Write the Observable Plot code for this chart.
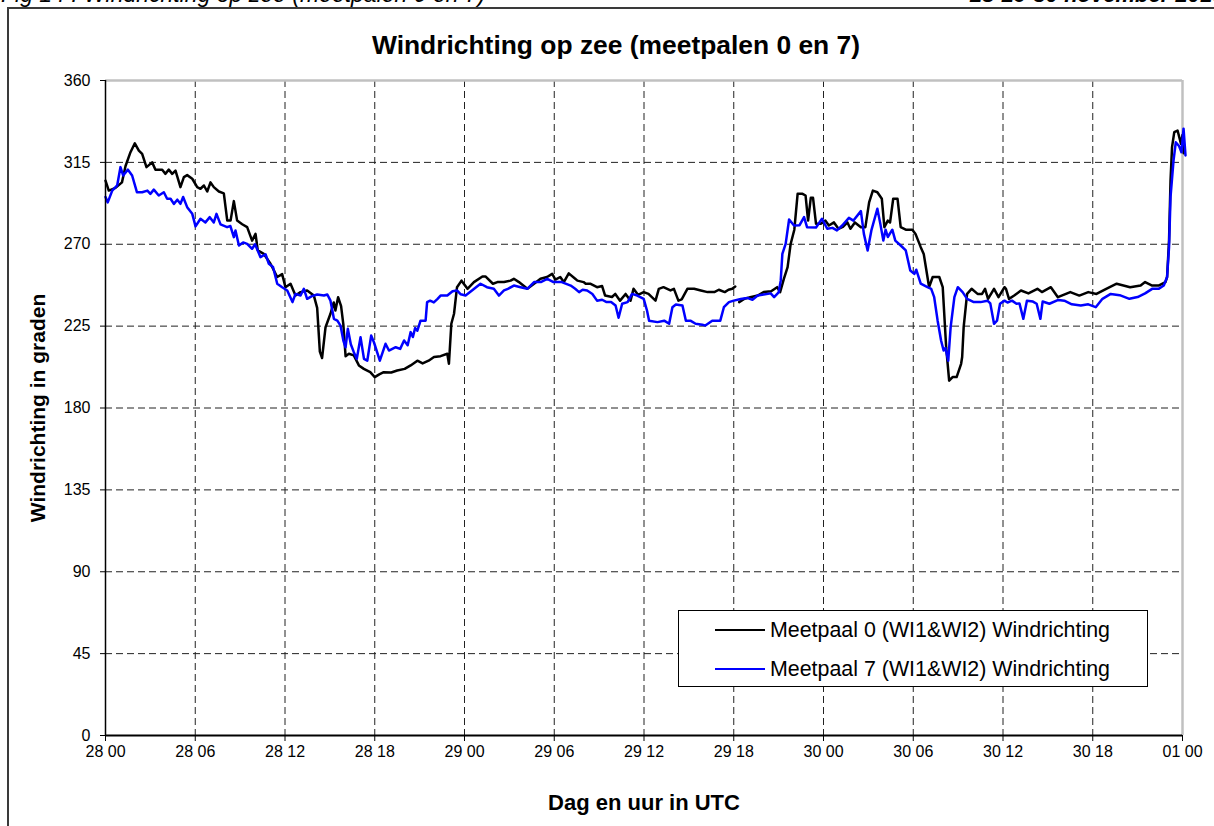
<!DOCTYPE html>
<html>
<head>
<meta charset="utf-8">
<script src="https://cdn.jsdelivr.net/npm/d3@7"></script>
<script src="https://cdn.jsdelivr.net/npm/@observablehq/plot@0.6"></script>
<style>
  html, body { margin: 0; padding: 0; background: #fff; }
  #wrap { position: relative; width: 1214px; height: 826px; overflow: hidden; font-family: "Liberation Sans", Arial, sans-serif; color: #000; }
  #wrap svg { position: absolute; left: 0; top: 0; }
  .abs { position: absolute; white-space: nowrap; }
  #frame { position: absolute; left: 7px; top: 7px; width: 1300px; height: 900px; border: 2px solid #3a3a3a; box-sizing: border-box; }
  #hdrL { left: 1px; top: -17px; font-size: 23px; font-style: italic; line-height: 23px; }
  #hdrR { left: 970px; top: -16px; font-size: 22px; font-style: italic; font-weight: bold; line-height: 22px; }
  #title { left: 0; width: 1232px; top: 30px; text-align: center; font-size: 26.4px; font-weight: bold; line-height: 30px; }
  #xlab { left: 0; width: 1288px; top: 791px; text-align: center; font-size: 22px; font-weight: bold; line-height: 24px; }
  #ylab { left: 38px; top: 408px; font-size: 21px; font-weight: bold; line-height: 24px; transform: translate(-50%, -50%) rotate(-90deg); }
  #legend { position: absolute; left: 678px; top: 610px; width: 470px; height: 77px; border: 1px solid #000; background: #fff; box-sizing: border-box; }
  .lrow { position: absolute; left: 36px; height: 24px; font-size: 21.4px; line-height: 24px; }
  .lrow span.sw { display: inline-block; width: 50px; height: 0; border-top: 2.6px solid #000; vertical-align: middle; margin-right: 5px; position: relative; top: -1px; }
</style>
</head>
<body>
<div id="wrap">
  <div id="frame"></div>
  <div id="chart"></div>
  <div class="abs" id="hdrL">Fig 14 : Windrichting op zee (meetpalen 0 en 7)</div>
  <div class="abs" id="hdrR">28-29-30 november 2010</div>
  <div class="abs" id="title">Windrichting op zee (meetpalen 0 en 7)</div>
  <div class="abs" id="xlab">Dag en uur in UTC</div>
  <div class="abs" id="ylab">Windrichting in graden</div>
  <div id="legend"></div>
</div>
<script>
// ---- data (hours since 28 Nov 00 UTC, wind direction in degrees) ----
const seriesNames = ["Meetpaal 0 (WI1&WI2) Windrichting", "Meetpaal 7 (WI1&WI2) Windrichting"];
const seriesColors = ["#000000", "#0000ff"];

const xTickHours = [0, 6, 12, 18, 24, 30, 36, 42, 48, 54, 60, 66, 72];
const xTickLabels = ["28 00", "28 06", "28 12", "28 18", "29 00", "29 06", "29 12", "29 18", "30 00", "30 06", "30 12", "30 18", "01 00"];
const yTicks = [0, 45, 90, 135, 180, 225, 270, 315, 360];

const hours0 = [0,0.22,0.67,1.1,1.34,1.67,1.96,2.23,2.45,2.74,3.12,3.34,3.79,4.0,4.23,4.46,4.68,5.01,5.24,5.46,5.8,6.13,6.35,6.58,6.8,7.02,7.24,7.58,7.91,8.14,8.36,8.58,8.8,9.14,9.47,9.8,10.03,10.18,10.58,11.03,11.48,11.81,12.03,12.37,12.7,13.04,13.48,13.93,14.15,14.33,14.48,14.71,15.04,15.26,15.37,15.55,15.75,15.9,16.05,16.27,16.6,16.94,17.27,17.7,18.0,18.3,18.6,19.1,19.5,20.0,20.4,20.85,21.2,21.6,21.96,22.4,22.85,22.96,23.12,23.3,23.5,23.8,24.2,24.63,25.2,25.4,25.9,26.2,26.64,27.08,27.3,27.64,28.2,28.65,29.08,29.52,29.86,30.08,30.4,30.64,30.97,31.4,31.55,31.96,32.1,32.4,32.86,33.2,33.4,33.86,34.08,34.4,34.77,35.1,35.3,35.6,35.98,36.3,36.77,36.99,37.3,37.77,38.0,38.3,38.52,38.9,39.35,39.8,40.25,40.7,41.0,41.4,41.65,41.9,42.1,42.23,42.36,42.7,43.1,43.6,44.0,44.5,44.9,45.1,45.35,45.6,45.8,46.05,46.27,46.6,46.8,46.97,47.15,47.3,47.5,47.8,48.13,48.36,48.7,49.0,49.3,49.6,49.8,50.1,50.5,50.8,51.05,51.3,51.6,51.9,52.07,52.3,52.45,52.66,52.95,53.16,53.5,53.94,54.15,54.5,54.7,54.95,55.06,55.3,55.74,55.97,56.2,56.4,56.63,56.9,57.2,57.27,57.37,57.6,57.9,58.3,58.6,58.8,59.0,59.4,59.7,60.1,60.2,60.4,60.75,61.2,61.7,62.3,62.6,63.2,63.67,64.5,65.1,65.7,66.25,66.9,67.6,68.5,69.2,69.5,69.97,70.4,70.86,70.97,71.1,71.2,71.3,71.45,71.67,71.9,72.0,72.08];
const dir0 = [305,299.5,301,304,313,320.6,325.5,321.5,319.7,312.4,315,311,311,308.7,311,308.7,310.5,301.4,306.9,308,306,301.4,300.5,302.3,299,304,301.4,299,298,283,283,293.7,283,281,279.4,272,275.7,266.6,264.7,259.3,252,253.6,246.4,248.3,241.8,243.7,244.6,241.8,235,211,207.5,224.4,231.8,238,233.6,240.9,236,226,208.5,209.8,208.9,203.4,201.5,199.7,197,198.5,199.7,199.5,200.6,201.5,203.4,206,204.5,206,208,208.5,209.8,204.3,226.3,231.8,246.4,250,245.5,249.2,252.3,252.3,248.3,249.2,249.2,250,251,249.2,245.5,248.3,251,252,253.7,250.6,252,249.2,254,251,250,249.2,248.3,248.3,246.4,247,241.8,241,242.7,239,242.7,239,245.5,242.2,243.7,242.7,239,245.5,246.4,244.6,245.5,239,239.7,245.5,245.5,244.6,243.7,243.7,245,243.7,245,245.5,246.8,null,238.2,240,240.9,241.8,243.7,244.2,246.4,243.7,251,257.4,270,278,297.7,297.7,296.8,283,295.5,295.5,281.2,281.2,283,280.3,282,278.5,279.5,282,278.5,282,279.4,279.4,293,299.5,298.6,295,279.4,283,282,295,295,279.4,278,278,275.7,268.4,264.7,252,246.4,252,252,246.4,213.4,195,197,197,204.3,208,224.4,242.7,245.5,242.7,242.7,245.5,240,245.5,240.9,246.4,245.5,240,241.8,244.6,243,245.5,243.7,246.4,240.9,243.7,241.8,243.7,242.7,245.5,248.3,246.4,247.3,249.2,247.3,247.3,249.2,252,272,305,323.4,331.6,332.5,325.2,330,320];

const hours7 = [0,0.15,0.45,0.78,1.0,1.18,1.5,1.78,2.1,2.45,2.8,3.0,3.23,3.56,3.9,4.12,4.35,4.57,4.8,5.01,5.19,5.46,5.8,6.02,6.35,6.68,6.97,7.24,7.42,7.69,8.13,8.35,8.58,8.69,8.92,9.2,9.47,9.8,10.0,10.36,10.7,10.92,11.2,11.48,11.81,12.15,12.5,12.7,13.04,13.26,13.48,13.8,14.15,14.6,14.83,15.04,15.27,15.5,15.71,15.9,16.05,16.2,16.4,16.6,16.8,17.05,17.28,17.5,17.76,17.95,18.34,18.72,18.95,19.4,19.7,19.96,20.2,20.4,20.55,20.7,20.85,21.06,21.4,21.5,21.7,21.95,22.2,22.4,22.85,23.2,23.5,23.75,24.07,24.5,25.07,25.5,25.96,26.3,26.64,26.9,27.3,27.75,28.2,28.65,29.1,29.53,29.95,30.5,31.1,31.4,31.66,31.9,32.2,32.55,32.86,33.2,33.5,33.8,34.1,34.3,34.54,34.9,35.2,35.55,35.98,36.2,36.34,36.9,37.35,37.68,37.9,38.13,38.57,38.8,39.1,39.45,39.9,40.1,40.56,41.1,41.34,41.68,42.0,42.47,42.9,43.25,43.6,44.0,44.47,44.7,45.0,45.14,45.25,45.47,45.7,46.03,46.4,46.7,46.9,47.5,47.9,48.25,48.6,48.9,49.25,49.7,50.0,50.5,50.7,50.95,51.2,51.6,51.8,52.0,52.15,52.3,52.6,52.8,53.16,53.5,53.8,54.07,54.2,54.5,54.95,55.2,55.4,55.63,55.86,56.03,56.15,56.34,56.5,56.75,56.98,57.3,57.6,58.05,58.5,58.96,59.15,59.4,59.6,59.8,60.1,60.3,60.6,60.9,61.1,61.36,61.6,62.0,62.25,62.5,62.65,63.1,63.7,64.1,64.6,65.2,65.7,66.2,66.65,67.2,67.8,68.45,69.0,69.5,69.97,70.4,70.75,70.97,71.1,71.2,71.4,71.55,71.77,71.93,72.07,72.2];
const dir7 = [296,293,299.5,302.3,312.4,307.8,311,307.8,298.6,298.6,299.5,297.7,300,296.8,298.6,295,295,292.2,294.5,292.2,296,290.4,286.7,279.8,284,282,284.9,282,286.7,280.9,279.4,280,273.9,277.6,269.3,271,270.2,267.5,270,262.9,264.5,259.3,257.5,248.3,246.4,244.6,238.2,242.7,241.8,245.5,240,241.5,242.4,241.8,242.4,239,229,228,225.3,217.1,213.4,223.5,215,210.7,207,218.9,207,206,219.8,216,206,215.3,211.6,213.4,212.5,217.1,214.5,221.7,219,224,222.5,228,228,238.2,239,238,240,241.8,241.8,244.2,244.6,242.5,241.8,244.6,248.3,246.4,245.5,241.8,244.6,245.5,247.3,246.4,245.5,249.2,249.2,251,249.2,249.2,247.3,245.5,243.7,245,244.6,242.7,239,239.5,238.2,238.2,236.3,229.6,237.3,238.2,242.7,241.8,240,233.6,228,227.2,228,226.3,235.4,236.9,236.3,228,228,226.3,225.8,225.3,228,228,235.4,238.2,239,239.9,240.5,239.5,241.8,242.4,243,240.9,243.5,250,264.7,270.2,283.6,280.3,280.5,284.9,279.4,279.2,284,278.5,279,277.6,280.3,284.5,283,288.2,275.7,266.6,277.6,289.5,281.2,272,278,274,278,272,269.3,266.6,255.6,253.7,256,248.3,246.4,245.5,240.9,228,217.1,211.6,213,206,224.4,240.9,246.4,243.7,240,238.2,238.2,239,237.5,226.3,228,237.3,239,238,239,237.3,237.5,229,239,238.5,237.3,229,238.5,237.3,239.4,239,237,236.3,237,235.4,240,242.7,242,240,241,243,245.5,245.5,247.3,252,268.4,296,316,326,324,320.6,333.5,318.8];

// ---- build table for Plot ----
const rows = [];
hours0.forEach((h, i) => rows.push({series: seriesNames[0], hour: h, dir: dir0[i]}));
hours7.forEach((h, i) => rows.push({series: seriesNames[1], hour: h, dir: dir7[i]}));

const gridX = xTickHours.slice(1, -1);
const gridY = yTicks.slice(1, -1);

const chart = Plot.plot({
  width: 1214,
  height: 826,
  marginLeft: 105,
  marginRight: 32,
  marginTop: 80,
  marginBottom: 91,
  style: {fontFamily: "'Liberation Sans', Arial, sans-serif", fontSize: "16px", background: "transparent", color: "#000", overflow: "visible"},
  x: {domain: [0, 72]},
  y: {domain: [0, 360]},
  color: {domain: seriesNames, range: seriesColors},
  marks: [
    Plot.ruleX(gridX, {stroke: "#222", strokeWidth: 1, strokeDasharray: "7,4"}),
    Plot.ruleY(gridY, {stroke: "#222", strokeWidth: 1, strokeDasharray: "7,4"}),
    Plot.ruleY([360], {stroke: "#c0c0c0", strokeWidth: 2.5}),
    Plot.ruleX([72], {stroke: "#c0c0c0", strokeWidth: 2.5}),
    Plot.line(rows, {filter: d => d.series === seriesNames[0], x: "hour", y: "dir", stroke: "series", strokeWidth: 2.5, curve: "linear"}),
    Plot.line(rows, {filter: d => d.series === seriesNames[1], x: "hour", y: "dir", stroke: "series", strokeWidth: 2.5, curve: "linear"}),
    Plot.ruleX([0], {stroke: "#000", strokeWidth: 1.5}),
    Plot.ruleY([0], {stroke: "#000", strokeWidth: 2}),
    Plot.axisX({ticks: xTickHours, tickFormat: d => xTickLabels[xTickHours.indexOf(d)], tickSize: 6, tickPadding: 4, label: null, fontSize: 16}),
    Plot.axisY({ticks: yTicks, tickSize: 5, tickPadding: 10, label: null, fontSize: 16})
  ]
});
document.getElementById("chart").appendChild(chart);

// legend
const legend = document.getElementById("legend");
seriesNames.forEach((name, i) => {
  const row = document.createElement("div");
  row.className = "lrow";
  row.style.top = (7 + i * 39) + "px";
  const sw = document.createElement("span");
  sw.className = "sw";
  sw.style.borderTopColor = seriesColors[i];
  row.appendChild(sw);
  row.appendChild(document.createTextNode(name));
  legend.appendChild(row);
});
</script>
</body>
</html>
